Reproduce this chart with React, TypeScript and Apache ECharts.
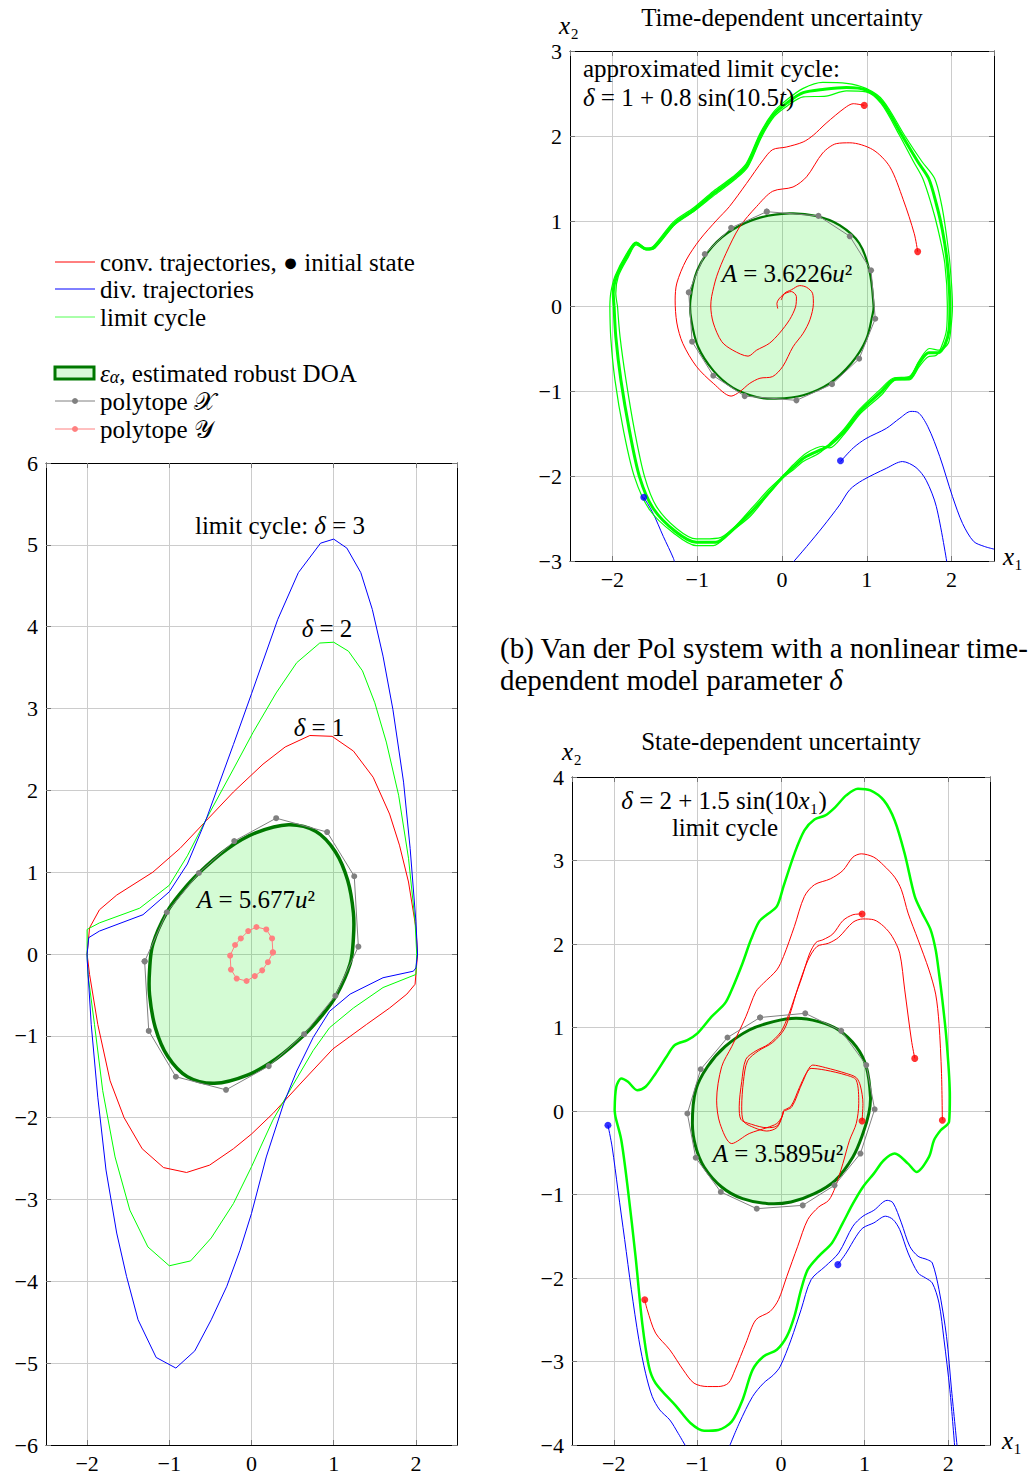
import React, { useEffect, useRef } from "react";
import * as echarts from "echarts";

// ---------- Left plot: Van der Pol limit cycles for delta = 1, 2, 3 ----------
const cycleDelta1 = [
  [-2.0, 0.0], [-1.97, 0.32], [-1.85, 0.54], [-1.64, 0.72], [-1.2, 1.0], [-0.87, 1.29], [-0.55, 1.63],
  [-0.22, 1.98], [0.14, 2.32], [0.41, 2.53], [0.71, 2.67], [0.98, 2.66], [1.24, 2.48], [1.48, 2.16],
  [1.68, 1.71], [1.8, 1.33], [1.91, 0.88], [2.0, 0.32], [2.02, 0.0], [1.99, -0.37], [1.89, -0.49],
  [1.68, -0.66], [1.4, -0.86], [0.99, -1.16], [0.59, -1.59], [0.26, -1.95], [0.0, -2.2], [-0.22, -2.38],
  [-0.51, -2.58], [-0.79, -2.67], [-1.07, -2.61], [-1.33, -2.38], [-1.55, -2.0], [-1.72, -1.55],
  [-1.87, -0.86], [-1.97, -0.25], [-2.0, 0.0],
];
const cycleDelta2 = [
  [-2.0, 0.0], [-2.0, 0.3], [-1.85, 0.38], [-1.36, 0.56], [-1.0, 0.84], [-0.78, 1.2], [-0.55, 1.65],
  [-0.22, 2.26], [0.02, 2.71], [0.3, 3.19], [0.55, 3.56], [0.83, 3.8], [1.0, 3.81], [1.18, 3.7],
  [1.35, 3.46], [1.5, 3.07], [1.64, 2.59], [1.79, 1.94], [1.91, 1.17], [1.99, 0.4], [2.01, 0.0],
  [2.0, -0.25], [1.6, -0.41], [1.24, -0.66], [0.95, -0.9], [0.75, -1.18], [0.51, -1.59], [0.26, -2.03],
  [0.0, -2.6], [-0.22, -3.05], [-0.49, -3.47], [-0.74, -3.75], [-1.0, -3.81], [-1.26, -3.58],
  [-1.48, -3.13], [-1.66, -2.48], [-1.81, -1.67], [-1.91, -0.86], [-1.99, -0.25], [-2.0, 0.0],
];
const cycleDelta3 = [
  [-2.0, 0.0], [-1.98, 0.2], [-1.85, 0.28], [-1.32, 0.48], [-1.0, 0.76], [-0.78, 1.1], [-0.55, 1.65],
  [-0.22, 2.56], [0.0, 3.18], [0.32, 4.09], [0.57, 4.66], [0.84, 5.02], [1.0, 5.07], [1.16, 4.96],
  [1.33, 4.66], [1.47, 4.21], [1.6, 3.64], [1.72, 2.99], [1.85, 2.1], [1.93, 1.29], [2.0, 0.4],
  [2.02, 0.0], [2.0, -0.17], [1.97, -0.21], [1.6, -0.29], [1.2, -0.49], [0.95, -0.7], [0.75, -1.02],
  [0.55, -1.43], [0.39, -1.83], [0.18, -2.48], [0.0, -3.17], [-0.14, -3.62], [-0.3, -4.06],
  [-0.49, -4.47], [-0.69, -4.85], [-0.92, -5.06], [-1.16, -4.93], [-1.38, -4.47], [-1.52, -3.94],
  [-1.64, -3.41], [-1.77, -2.64], [-1.87, -1.75], [-1.95, -0.86], [-2.0, -0.05], [-2.0, 0.0],
];
const polyXLeft = [
  [-1.3, -0.09], [-1.03, 0.51], [-0.64, 0.99], [-0.21, 1.38], [0.3, 1.66], [0.92, 1.49], [1.25, 0.95],
  [1.3, 0.09], [1.02, -0.51], [0.64, -0.98], [0.21, -1.37], [-0.31, -1.66], [-0.92, -1.5], [-1.25, -0.94],
  [-1.3, -0.09],
];
const polyYLeft = [
  [0.26, 0.02], [0.25, 0.19], [0.18, 0.3], [0.06, 0.33], [-0.04, 0.28], [-0.13, 0.19], [-0.2, 0.11],
  [-0.26, -0.02], [-0.25, -0.19], [-0.18, -0.3], [-0.06, -0.33], [0.04, -0.27], [0.13, -0.2], [0.2, -0.1],
  [0.26, 0.02],
];
const doaLeft = [
  [-1.24, -0.2], [-1.2, 0.12], [-1.03, 0.51], [-0.85, 0.76], [-0.64, 0.99], [-0.3, 1.28], [0.05, 1.48],
  [0.45, 1.58], [0.78, 1.5], [1.02, 1.25], [1.17, 0.9], [1.24, 0.5], [1.24, 0.2], [1.2, -0.12],
  [1.03, -0.51], [0.85, -0.76], [0.64, -0.99], [0.3, -1.28], [-0.05, -1.48], [-0.45, -1.58],
  [-0.78, -1.5], [-1.02, -1.25], [-1.17, -0.9], [-1.24, -0.5],
];

// ---------- Top right: time-dependent uncertainty (bundle of limit-cycle passes) ----------
const lcTimeOuter = [
  [-2.03, 0.0], [-2.02, 0.15], [-1.97, 0.35], [-1.83, 0.62], [-1.72, 0.75], [-1.6, 0.68], [-1.52, 0.7],
  [-1.28, 0.99], [-1.05, 1.15], [-0.81, 1.35], [-0.58, 1.52], [-0.42, 1.68], [-0.26, 2.03], [-0.11, 2.27],
  [0.05, 2.42], [0.25, 2.56], [0.48, 2.63], [0.76, 2.62], [0.99, 2.56], [1.19, 2.42], [1.45, 2.0],
  [1.65, 1.7], [1.8, 1.5], [1.88, 1.2], [1.93, 0.9], [1.98, 0.5], [2.01, 0.0], [1.99, -0.28],
  [1.96, -0.44], [1.86, -0.52], [1.74, -0.5], [1.62, -0.64], [1.5, -0.83], [1.31, -0.85], [1.15, -0.99],
  [0.91, -1.22], [0.72, -1.46], [0.56, -1.62], [0.44, -1.73], [0.25, -1.83], [0.13, -1.93], [0.0, -2.03],
  [-0.18, -2.24], [-0.38, -2.48], [-0.62, -2.67], [-0.81, -2.82], [-1.01, -2.82], [-1.28, -2.67],
  [-1.56, -2.4], [-1.74, -2.01], [-1.87, -1.46], [-1.97, -0.87], [-2.02, -0.36], [-2.03, 0.0],
];
const lcTimeMiddle = [
  [-1.98, 0.0], [-1.99, 0.15], [-1.95, 0.35], [-1.82, 0.6], [-1.72, 0.74], [-1.6, 0.67], [-1.51, 0.69],
  [-1.27, 0.97], [-1.04, 1.13], [-0.8, 1.33], [-0.56, 1.51], [-0.41, 1.66], [-0.25, 2.01], [-0.1, 2.25],
  [0.06, 2.39], [0.25, 2.51], [0.5, 2.55], [0.76, 2.57], [0.99, 2.54], [1.18, 2.4], [1.42, 2.0],
  [1.6, 1.7], [1.73, 1.5], [1.82, 1.2], [1.89, 0.9], [1.95, 0.5], [1.98, 0.0], [1.97, -0.28],
  [1.92, -0.46], [1.84, -0.55], [1.73, -0.55], [1.62, -0.67], [1.5, -0.85], [1.33, -0.86], [1.16, -1.02],
  [0.92, -1.24], [0.73, -1.48], [0.56, -1.64], [0.46, -1.69], [0.27, -1.78], [0.13, -1.9], [0.0, -2.02],
  [-0.16, -2.2], [-0.36, -2.42], [-0.6, -2.65], [-0.78, -2.78], [-1.01, -2.78], [-1.26, -2.65],
  [-1.52, -2.38], [-1.68, -2.01], [-1.8, -1.46], [-1.9, -0.87], [-1.96, -0.36], [-1.98, 0.0],
];
const lcTimeInner = [
  [-1.94, 0.0], [-1.96, 0.15], [-1.93, 0.35], [-1.81, 0.58], [-1.72, 0.72], [-1.6, 0.66], [-1.5, 0.68],
  [-1.26, 0.96], [-1.03, 1.12], [-0.79, 1.31], [-0.54, 1.5], [-0.4, 1.64], [-0.24, 1.99], [-0.09, 2.23],
  [0.07, 2.36], [0.25, 2.46], [0.52, 2.47], [0.76, 2.53], [0.99, 2.52], [1.17, 2.38], [1.39, 2.0],
  [1.55, 1.7], [1.66, 1.5], [1.76, 1.2], [1.84, 0.9], [1.92, 0.5], [1.95, 0.0], [1.94, -0.28],
  [1.88, -0.48], [1.82, -0.58], [1.72, -0.6], [1.62, -0.71], [1.5, -0.87], [1.35, -0.87], [1.17, -1.05],
  [0.93, -1.26], [0.74, -1.5], [0.56, -1.67], [0.48, -1.65], [0.29, -1.73], [0.13, -1.87], [0.0, -2.01],
  [-0.15, -2.15], [-0.34, -2.36], [-0.58, -2.62], [-0.75, -2.73], [-1.01, -2.74], [-1.24, -2.62],
  [-1.48, -2.36], [-1.62, -2.01], [-1.74, -1.46], [-1.84, -0.87], [-1.91, -0.36], [-1.94, 0.0],
];
const timeConvA = [
  [0.97, 2.36], [0.84, 2.38], [0.74, 2.33], [0.52, 2.15], [0.37, 2.01], [0.25, 1.93], [0.05, 1.87],
  [-0.11, 1.84], [-0.22, 1.72], [-0.42, 1.44], [-0.62, 1.17], [-0.77, 1.01], [-0.97, 0.78], [-1.13, 0.54],
  [-1.24, 0.27], [-1.26, 0.07], [-1.24, -0.2], [-1.17, -0.44], [-1.01, -0.71], [-0.81, -0.91],
  [-0.6, -1.06], [-0.5, -1.01], [-0.38, -0.91], [-0.26, -0.85], [-0.11, -0.83], [0.01, -0.71],
  [0.13, -0.48], [0.25, -0.32], [0.33, -0.16], [0.37, 0.03], [0.36, 0.15], [0.29, 0.22], [0.21, 0.24],
  [0.11, 0.19], [0.03, 0.15], [-0.01, 0.07],
];
const timeConvB = [
  [1.6, 0.64], [1.56, 0.85], [1.43, 1.25], [1.27, 1.64], [1.07, 1.84], [0.8, 1.92], [0.64, 1.91],
  [0.48, 1.8], [0.29, 1.52], [0.13, 1.4], [-0.11, 1.35], [-0.3, 1.17], [-0.5, 0.93], [-0.66, 0.62],
  [-0.77, 0.35], [-0.83, 0.11], [-0.84, 0.0], [-0.81, -0.2], [-0.71, -0.42], [-0.58, -0.52],
  [-0.4, -0.59], [-0.3, -0.52], [-0.15, -0.44], [-0.03, -0.32], [0.09, -0.16], [0.16, -0.01],
  [0.17, 0.11], [0.11, 0.17], [0.01, 0.13], [-0.06, 0.03], [-0.05, -0.03],
];
const timeDivA = [[-1.63, -2.25], [-1.52, -2.44], [-1.4, -2.71], [-1.28, -2.97], [-1.26, -3.05]];
const timeDivB = [
  [0.69, -1.83], [0.84, -1.67], [0.99, -1.56], [1.23, -1.44], [1.39, -1.32], [1.52, -1.24], [1.6, -1.25],
  [1.72, -1.42], [1.86, -1.77], [2.01, -2.24], [2.13, -2.56], [2.26, -2.77], [2.39, -2.83], [2.5, -2.86],
];
const timeDivC = [
  [0.1, -3.05], [0.29, -2.83], [0.48, -2.6], [0.68, -2.34], [0.8, -2.16], [0.95, -2.05], [1.23, -1.91],
  [1.42, -1.83], [1.58, -1.9], [1.7, -2.05], [1.82, -2.36], [1.95, -3.05],
];
const timeRedStarts = [[0.97, 2.36], [1.6, 0.64]];
const timeBlueStarts = [[-1.63, -2.25], [0.69, -1.82]];
const polyXTime = [
  [-0.18, 1.11], [0.43, 1.06], [0.8, 0.82], [1.05, 0.42], [1.1, -0.15], [0.91, -0.62], [0.59, -0.92],
  [0.17, -1.11], [-0.44, -1.06], [-0.81, -0.82], [-1.06, -0.42], [-1.1, 0.16], [-0.91, 0.61],
  [-0.6, 0.92], [-0.18, 1.11],
];
const doaTime = [
  [1.08, 0.0], [1.03, 0.42], [0.91, 0.74], [0.68, 0.95], [0.4, 1.06], [0.09, 1.09], [-0.26, 1.04],
  [-0.58, 0.9], [-0.82, 0.7], [-1.0, 0.42], [-1.08, 0.07], [-1.07, -0.16], [-0.99, -0.48], [-0.81, -0.76],
  [-0.58, -0.96], [-0.3, -1.07], [-0.07, -1.09], [0.25, -1.05], [0.56, -0.91], [0.82, -0.67],
  [0.99, -0.4], [1.07, -0.09],
];

// ---------- Bottom right: state-dependent uncertainty ----------
const lcState = [
  [-1.99, 0.01], [-1.97, 0.29], [-1.91, 0.39], [-1.83, 0.35], [-1.72, 0.25], [-1.62, 0.29], [-1.5, 0.45],
  [-1.37, 0.65], [-1.27, 0.79], [-1.12, 0.85], [-1.0, 0.93], [-0.83, 1.13], [-0.67, 1.29], [-0.59, 1.45],
  [-0.46, 1.77], [-0.36, 2.05], [-0.26, 2.27], [-0.17, 2.35], [-0.05, 2.45], [0.03, 2.69], [0.16, 3.08],
  [0.28, 3.36], [0.4, 3.49], [0.53, 3.54], [0.65, 3.64], [0.78, 3.78], [0.92, 3.86], [1.07, 3.84],
  [1.23, 3.72], [1.36, 3.48], [1.48, 3.08], [1.6, 2.57], [1.69, 2.37], [1.79, 2.17], [1.85, 1.93],
  [1.89, 1.65], [1.93, 1.33], [1.98, 0.85], [2.02, 0.17], [2.01, -0.13], [1.91, -0.23], [1.83, -0.35],
  [1.77, -0.55], [1.62, -0.73], [1.52, -0.63], [1.36, -0.51], [1.23, -0.59], [1.11, -0.75], [0.98, -0.91],
  [0.86, -1.11], [0.74, -1.34], [0.61, -1.58], [0.45, -1.74], [0.32, -1.9], [0.24, -2.14], [0.16, -2.46],
  [0.07, -2.7], [-0.05, -2.86], [-0.21, -2.94], [-0.34, -3.1], [-0.46, -3.46], [-0.59, -3.72],
  [-0.75, -3.82], [-0.92, -3.83], [-1.08, -3.74], [-1.25, -3.54], [-1.5, -3.26], [-1.58, -3.06],
  [-1.66, -2.54], [-1.74, -1.74], [-1.83, -0.95], [-1.91, -0.35], [-1.98, -0.07], [-1.99, 0.01],
];
const stateConvA = [
  [0.97, 2.36], [0.86, 2.35], [0.74, 2.28], [0.62, 2.12], [0.5, 2.05], [0.42, 2.02], [0.34, 1.88],
  [0.25, 1.6], [0.16, 1.35], [0.09, 1.15], [0.0, 0.95], [-0.15, 0.8], [-0.3, 0.72], [-0.42, 0.62],
  [-0.47, 0.35], [-0.5, 0.05], [-0.48, -0.1], [-0.35, -0.16], [-0.17, -0.2], [-0.05, -0.18],
  [0.01, -0.07], [0.03, 0.0],
];
const stateConvB = [
  [1.6, 0.63], [1.56, 0.85], [1.48, 1.45], [1.42, 1.89], [1.33, 2.09], [1.23, 2.21], [1.11, 2.29],
  [0.98, 2.3], [0.86, 2.26], [0.69, 2.08], [0.57, 2.01], [0.43, 1.97], [0.32, 1.8], [0.2, 1.47],
  [0.12, 1.2], [0.04, 0.98], [-0.1, 0.82], [-0.27, 0.72], [-0.4, 0.6], [-0.45, 0.35], [-0.47, 0.05],
  [-0.45, -0.12], [-0.32, -0.2], [-0.17, -0.24], [-0.05, -0.2], [0.01, -0.08], [0.03, 0.0],
];
const stateConvC = [
  [1.93, -0.11], [1.92, 0.45], [1.89, 1.05], [1.85, 1.4], [1.77, 1.69], [1.64, 2.05], [1.52, 2.37],
  [1.44, 2.65], [1.36, 2.8], [1.23, 2.94], [1.11, 3.04], [0.96, 3.08], [0.86, 3.04], [0.74, 2.88],
  [0.59, 2.78], [0.4, 2.71], [0.28, 2.57], [0.16, 2.21], [0.03, 1.85], [-0.05, 1.69], [-0.21, 1.53],
  [-0.3, 1.43], [-0.42, 1.13], [-0.59, 0.77], [-0.71, 0.53], [-0.77, 0.13], [-0.73, -0.15],
  [-0.59, -0.39], [-0.38, -0.27], [-0.17, -0.2], [-0.05, -0.15], [0.01, -0.07], [0.03, 0.0],
];
const stateConvD = [
  [0.97, -0.12], [0.98, 0.09], [0.95, 0.3], [0.9, 0.4], [0.78, 0.45], [0.53, 0.52], [0.38, 0.55],
  [0.3, 0.45], [0.22, 0.28], [0.12, 0.06], [0.03, 0.01],
];
const stateConvE = [
  [-1.63, -2.26], [-1.6, -2.38], [-1.5, -2.66], [-1.33, -2.86], [-1.17, -3.1], [-1.04, -3.26],
  [-0.88, -3.3], [-0.75, -3.3], [-0.63, -3.26], [-0.55, -3.1], [-0.42, -2.78], [-0.3, -2.5],
  [-0.13, -2.4], [-0.03, -2.26], [0.07, -1.98], [0.2, -1.62], [0.32, -1.3], [0.45, -1.15], [0.57, -1.07],
  [0.65, -0.91], [0.74, -0.63], [0.82, -0.35], [0.9, -0.15], [0.93, 0.09], [0.9, 0.37], [0.78, 0.43],
  [0.53, 0.49], [0.36, 0.51], [0.26, 0.35], [0.13, 0.05], [0.03, 0.0],
];
const stateDivA = [
  [-2.07, -0.17], [-2.02, -0.43], [-1.95, -0.95], [-1.87, -1.54], [-1.79, -2.14], [-1.7, -2.74],
  [-1.62, -3.14], [-1.54, -3.42], [-1.45, -3.58], [-1.33, -3.7], [-1.23, -3.86], [-1.12, -4.05],
];
const stateDivB = [
  [0.68, -1.84], [0.78, -1.7], [0.9, -1.5], [0.98, -1.4], [1.11, -1.34], [1.25, -1.26], [1.34, -1.3],
  [1.42, -1.42], [1.52, -1.7], [1.64, -1.94], [1.73, -2.0], [1.81, -2.06], [1.89, -2.3], [1.95, -2.74],
  [2.02, -3.34], [2.08, -4.05],
];
const stateDivC = [
  [-0.63, -4.05], [-0.5, -3.74], [-0.34, -3.42], [-0.21, -3.26], [-0.09, -3.16], [-0.01, -3.06],
  [0.12, -2.74], [0.24, -2.38], [0.36, -2.02], [0.53, -1.86], [0.69, -1.7], [0.86, -1.38], [0.98, -1.26],
  [1.11, -1.19], [1.27, -1.07], [1.34, -1.1], [1.44, -1.34], [1.54, -1.62], [1.64, -1.74], [1.75, -1.78],
  [1.81, -1.82], [1.89, -2.14], [1.98, -2.7], [2.04, -3.34], [2.11, -4.05],
];
const stateRedStarts = [[0.97, 2.36], [1.6, 0.63], [1.93, -0.11], [0.97, -0.12], [-1.63, -2.26]];
const stateBlueStarts = [[-2.07, -0.17], [0.68, -1.84]];
const polyXState = [
  [-0.25, 1.12], [0.29, 1.17], [0.72, 0.96], [1.02, 0.55], [1.12, 0.02], [0.95, -0.51], [0.64, -0.89],
  [0.26, -1.13], [-0.29, -1.17], [-0.72, -0.97], [-1.02, -0.56], [-1.12, -0.03], [-0.96, 0.5],
  [-0.64, 0.88], [-0.25, 1.12],
];
const doaState = [
  [1.07, 0.17], [1.02, 0.53], [0.9, 0.77], [0.69, 0.97], [0.45, 1.07], [0.18, 1.11], [-0.09, 1.07],
  [-0.38, 0.97], [-0.67, 0.77], [-0.88, 0.53], [-1.02, 0.25], [-1.06, -0.15], [-1.02, -0.43],
  [-0.92, -0.67], [-0.71, -0.91], [-0.46, -1.05], [-0.15, -1.11], [0.12, -1.09], [0.4, -0.99],
  [0.65, -0.83], [0.86, -0.55], [0.98, -0.27], [1.05, -0.03],
];

// ---------- styling ----------
const FONT = '"Liberation Serif", "DejaVu Serif", serif';
const RED = "#ff0000";
const BLUE = "#0000ff";
const GREEN = "#00ff00";
const GRAY = "#808080";
const PINK = "#ff8080";
const DARKGREEN = "#007800";
const FILL = "rgba(0,230,0,0.17)";
const TS = 25; // regular text size
const TICK = 22;

const fmt = (v: number) =>
  Number.isInteger(v) ? (v < 0 ? "\u2212" + Math.abs(v) : String(v)) : "";

const tick = { show: true, inside: true, length: 5, lineStyle: { color: "#777", width: 1 } };
const axLine = { show: true, onZero: false, lineStyle: { color: "#000", width: 1 } };
const split = { show: true, showMinLine: false, showMaxLine: false, lineStyle: { color: "#cccccc", width: 1 } };
const label = { fontSize: TICK, fontFamily: FONT, color: "#000", formatter: fmt, showMinLabel: false, showMaxLabel: false };

function xAxes(g: number) {
  const base = { type: "value", gridIndex: g, min: -2.5, max: 2.5, splitNumber: 5 };
  return [
    { ...base, position: "bottom", axisLine: axLine, axisTick: tick, axisLabel: { ...label, margin: 7 }, splitLine: split },
    { ...base, position: "top", axisLine: axLine, axisTick: tick, axisLabel: { show: false }, splitLine: { show: false } },
  ];
}
function yAxes(g: number, min: number, max: number) {
  const base = { type: "value", gridIndex: g, min, max, interval: 1 };
  return [
    { ...base, position: "left", axisLine: axLine, axisTick: tick, axisLabel: { ...label, showMinLabel: true, showMaxLabel: true, margin: 8 }, splitLine: split },
    { ...base, position: "right", axisLine: axLine, axisTick: tick, axisLabel: { show: false }, splitLine: { show: false } },
  ];
}

const line = (g: number, data: number[][], color: string, width = 1, smooth: number | boolean = false, z = 3) => ({
  type: "line", xAxisIndex: g * 2, yAxisIndex: g * 2, data, symbol: "none", showSymbol: false, smooth,
  lineStyle: { color, width }, itemStyle: { color }, z, silent: true,
});
const poly = (g: number, data: number[][], color: string) => ({
  type: "line", xAxisIndex: g * 2, yAxisIndex: g * 2, data, symbol: "circle", symbolSize: 6, showSymbol: true,
  lineStyle: { color, width: 1 }, itemStyle: { color }, z: 4, silent: true,
});
const dots = (g: number, data: number[][], color: string) => ({
  type: "scatter", xAxisIndex: g * 2, yAxisIndex: g * 2, data, symbolSize: 7, itemStyle: { color }, z: 6, silent: true,
});
const doa = (g: number, pts: number[][], width: number) => ({
  type: "custom", xAxisIndex: g * 2, yAxisIndex: g * 2, coordinateSystem: "cartesian2d", data: [[0, 0]], silent: true, z: 2,
  renderItem: (_p: any, api: any) => ({
    type: "polygon",
    shape: { points: pts.map((p) => api.coord(p)), smooth: 0.35 },
    style: { fill: FILL, stroke: DARKGREEN, lineWidth: width },
  }),
});

const richStyles = (size: number) => ({
  i: { fontStyle: "italic", fontSize: size, fontFamily: FONT, fill: "#000" },
  sub: { fontStyle: "italic", fontSize: Math.round(size * 0.7), fontFamily: FONT, fill: "#000", verticalAlign: "bottom" },
});
const txt = (x: number, y: number, text: string, size = TS, align = "center") => ({
  type: "text", x, y, silent: true, z: 100,
  style: { text, fontSize: size, fontFamily: FONT, fill: "#000", align, verticalAlign: "middle", rich: richStyles(size) },
});
const legLine = (y: number, color: string, dot = false) => {
  const els: any[] = [{ type: "line", silent: true, z: 100, shape: { x1: 55, y1: y, x2: 95, y2: y }, style: { stroke: color, lineWidth: 1 } }];
  if (dot) els.push({ type: "circle", silent: true, z: 101, shape: { cx: 75, cy: y, r: 3 }, style: { fill: color } });
  return els;
};

const graphic = [
  ...legLine(262, RED), txt(100, 262, "conv. trajectories, \u25CF initial state", TS, "left"),
  ...legLine(289, BLUE), txt(100, 289, "div. trajectories", TS, "left"),
  ...legLine(317, "#55ff55"), txt(100, 317, "limit cycle", TS, "left"),
  { type: "rect", silent: true, z: 100, shape: { x: 55, y: 367, width: 39, height: 12 }, style: { fill: "#d8fad8", stroke: DARKGREEN, lineWidth: 3 } },
  txt(100, 373, "{i|\u03B5}{sub|\u03B1}, estimated robust DOA", TS, "left"),
  ...legLine(401, GRAY, true), txt(100, 401, "polytope \uD835\uDCB3", TS, "left"),
  ...legLine(429, PINK, true), txt(100, 429, "polytope \uD835\uDCB4", TS, "left"),
  // left plot annotations
  txt(280, 525, "limit cycle: {i|\u03B4} = 3"),
  txt(327, 628, "{i|\u03B4} = 2"),
  txt(319, 727, "{i|\u03B4} = 1"),
  txt(256, 899, "{i|A} = 5.677{i|u}\u00B2"),
  // top right
  txt(782, 17, "Time-dependent uncertainty"),
  txt(569, 25, "{i|x}\u2082"),
  txt(1013, 556, "{i|x}\u2081"),
  txt(583, 68, "approximated limit cycle:", TS, "left"),
  txt(583, 97, "{i|\u03B4} = 1 + 0.8 sin(10.5{i|t})", TS, "left"),
  txt(787, 273, "{i|A} = 3.6226{i|u}\u00B2"),
  // caption
  txt(500, 648, "(b) Van der Pol system with a nonlinear time-", 29, "left"),
  txt(500, 680, "dependent model parameter {i|\u03B4}", 29, "left"),
  // bottom right
  txt(781, 741, "State-dependent uncertainty"),
  txt(572, 751, "{i|x}\u2082"),
  txt(1012, 1440, "{i|x}\u2081"),
  txt(724, 800, "{i|\u03B4} = 2 + 1.5 sin(10{i|x}\u2081)"),
  txt(725, 827, "limit cycle"),
  txt(778, 1153, "{i|A} = 3.5895{i|u}\u00B2"),
];

const option: any = {
  animation: false,
  grid: [
    { left: 46, top: 463, width: 411, height: 986 },
    { left: 570, top: 51, width: 424, height: 510 },
    { left: 572, top: 777, width: 418, height: 668 },
  ],
  xAxis: [...xAxes(0), ...xAxes(1), ...xAxes(2)],
  yAxis: [...yAxes(0, -6, 6), ...yAxes(1, -3, 3), ...yAxes(2, -4, 4)],
  graphic,
  series: [
    // left
    doa(0, doaLeft, 3.5),
    line(0, cycleDelta1, RED),
    line(0, cycleDelta2, GREEN),
    line(0, cycleDelta3, BLUE),
    poly(0, polyXLeft, GRAY),
    poly(0, polyYLeft, PINK),
    // top right
    doa(1, doaTime, 2.2),
    poly(1, polyXTime, GRAY),
    line(1, timeConvA, RED, 1, 0.3),
    line(1, timeConvB, RED, 1, 0.3),
    line(1, timeDivA, BLUE, 1, 0.3),
    line(1, timeDivB, BLUE, 1, 0.3),
    line(1, timeDivC, BLUE, 1, 0.3),
    line(1, lcTimeOuter, GREEN, 1.2, 0.3, 5),
    line(1, lcTimeMiddle, GREEN, 3, 0.3, 5),
    line(1, lcTimeInner, GREEN, 1.2, 0.3, 5),
    dots(1, timeRedStarts, RED),
    dots(1, timeBlueStarts, BLUE),
    // bottom right
    doa(2, doaState, 3),
    poly(2, polyXState, GRAY),
    line(2, stateConvA, RED, 1, 0.3),
    line(2, stateConvB, RED, 1, 0.3),
    line(2, stateConvC, RED, 1, 0.3),
    line(2, stateConvD, RED, 1, 0.3),
    line(2, stateConvE, RED, 1, 0.3),
    line(2, stateDivA, BLUE, 1, 0.3),
    line(2, stateDivB, BLUE, 1, 0.3),
    line(2, stateDivC, BLUE, 1, 0.3),
    line(2, lcState, GREEN, 2.5, 0.3, 5),
    dots(2, stateRedStarts, RED),
    dots(2, stateBlueStarts, BLUE),
  ],
};

export default function App() {
  const ref = useRef<HTMLDivElement>(null);
  useEffect(() => {
    document.body.style.margin = "0";
    const chart = echarts.init(ref.current!, null, { renderer: "svg" });
    chart.setOption(option);
    return () => chart.dispose();
  }, []);
  return <div ref={ref} style={{ width: 1032, height: 1474 }} />;
}
